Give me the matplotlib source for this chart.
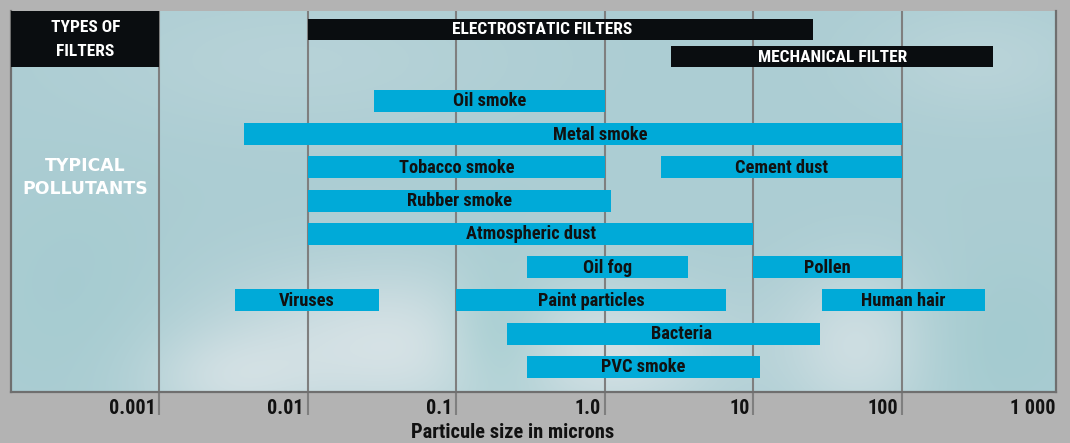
import numpy as np
import matplotlib
matplotlib.use("Agg")
import matplotlib.pyplot as plt
from matplotlib import transforms

# ---- data -----------------------------------------------------------------
filters = ["ELECTROSTATIC FILTERS", "MECHANICAL FILTER"]
filter_lo = [0.01, 2.8]
filter_hi = [25, 410]

pollutants = ["Oil smoke", "Metal smoke", "Tobacco smoke", "Cement dust",
              "Rubber smoke", "Atmospheric dust", "Oil fog", "Pollen",
              "Viruses", "Paint particles", "Human hair", "Bacteria",
              "PVC smoke"]
size_lo = [0.028, 0.0037, 0.01, 2.4, 0.01, 0.01, 0.3, 10,
           0.0032, 0.1, 29, 0.22, 0.3]
size_hi = [1.0, 100, 1.0, 100, 1.1, 10, 3.6, 100,
           0.03, 6.5, 360, 28, 11]
lane = [0, 1, 2, 2, 3, 4, 5, 5, 6, 6, 6, 7, 8]

tick_values = [0.001, 0.01, 0.1, 1.0, 10, 100, 1000]
tick_labels = ["0.001", "0.01", "0.1", "1.0", "10", "100", "1 000"]

# ---- style ----------------------------------------------------------------
W, H = 1070, 443
FIG_BG = "#b3b3b3"
BAR_BLUE = "#00aad8"
BLACK = "#0a0d10"
GRID = "#7f7f7f"
NARROW = ["Roboto Condensed", "Archivo Narrow", "PT Sans Narrow",
          "IBM Plex Sans Condensed", "DejaVu Sans"]
# labels not centred on their bar (x in microns)
label_x = {"ELECTROSTATIC FILTERS": 0.376, "Metal smoke": 0.93,
           "Bacteria": 3.3}

fig = plt.figure(figsize=(W / 100, H / 100), dpi=100, facecolor=FIG_BG)

# plot rectangle in pixels
x0, x1, y0, y1 = 11, 1056, 11, 392
rect = [x0 / W, 1 - y1 / H, (x1 - x0) / W, (y1 - y0) / H]

# soft cloudy backdrop
bg = fig.add_axes(rect, zorder=0)
gx, gy = np.meshgrid(np.arange(x0, x1), np.arange(y0, y1))
base = np.array([172, 205, 211]) / 255.0
light = np.array([224, 231, 234]) / 255.0
teal = np.array([152, 200, 203]) / 255.0
w_light = np.zeros_like(gx, dtype=float)
for cx, cy, sx, sy, a in [(400, 345, 130, 55, 0.8), (630, 355, 70, 45, 0.55),
                          (860, 345, 55, 55, 0.65), (300, 60, 150, 50, 0.2),
                          (980, 60, 80, 40, 0.25), (220, 380, 60, 35, 0.45)]:
    w_light += a * np.exp(-((gx - cx) ** 2 / (2 * sx ** 2) + (gy - cy) ** 2 / (2 * sy ** 2)))
w_light = np.clip(w_light, 0, 1)
w_teal = np.zeros_like(gx, dtype=float)
for cx, cy, sx, sy, a in [(500, 330, 40, 60, 0.6), (1000, 340, 60, 60, 0.4),
                          (80, 300, 70, 80, 0.3)]:
    w_teal += a * np.exp(-((gx - cx) ** 2 / (2 * sx ** 2) + (gy - cy) ** 2 / (2 * sy ** 2)))
w_teal = np.clip(w_teal, 0, 1)
img = base * (1 - w_light[..., None]) + light * w_light[..., None]
img = img * (1 - w_teal[..., None]) + teal * w_teal[..., None]
bg.imshow(img, aspect="auto", interpolation="bilinear")
bg.axis("off")

ax = fig.add_axes(rect, zorder=1)
ax.patch.set_alpha(0)
ax.set_xscale("log")
ax.set_xlim(1e-4, 1090)
ax.set_ylim(y1, y0)  # vertical axis in figure pixel rows

for s in ["left", "right", "bottom"]:
    ax.spines[s].set_color("#6f6f6f")
    ax.spines[s].set_linewidth(1.6)
ax.spines["top"].set_visible(False)
ax.set_xticks([])
ax.set_yticks([])
ax.minorticks_off()
ax.tick_params(which="both", length=0, labelbottom=False, labelleft=False)

# decade grid lines, extended below the frame as tick marks
for v in tick_values[:-1]:
    ax.plot([v, v], [y0, 415], color=GRID, lw=1.5, zorder=1, clip_on=False,
            solid_capstyle="butt")

# header block of the left column
ax.barh((y0 + 67) / 2, 1e-3 - 1e-4, left=1e-4, height=67 - y0,
        color=BLACK, zorder=3)
ax.text(10 ** -3.5, 28, "TYPES OF", color="white", ha="center", va="center",
        fontsize=12.5, fontweight="bold", family=NARROW, zorder=4)
ax.text(10 ** -3.5, 51.5, "FILTERS", color="white", ha="center", va="center",
        fontsize=12.5, fontweight="bold", family=NARROW, zorder=4)
ax.text(10 ** -3.5, 166, "TYPICAL", color="white", ha="center", va="center",
        fontsize=12.4, fontweight="bold", family="DejaVu Sans", zorder=4)
ax.text(10 ** -3.5, 189, "POLLUTANTS", color="white", ha="center", va="center",
        fontsize=12.4, fontweight="bold", family="DejaVu Sans", zorder=4)

# filter ranges
filter_y = [29.5, 56.5]
for name, lo, hi, yc in zip(filters, filter_lo, filter_hi, filter_y):
    ax.barh(yc, hi - lo, left=lo, height=21, color=BLACK, zorder=3)
    ax.text(label_x.get(name, np.sqrt(lo * hi)), yc + 0.5, name, color="white",
            ha="center", va="center", fontsize=12.5, fontweight="bold",
            family=NARROW, zorder=4)

# pollutant size ranges
for name, lo, hi, ln in zip(pollutants, size_lo, size_hi, lane):
    yc = 101 + 33.25 * ln
    ax.barh(yc, hi - lo, left=lo, height=22, color=BAR_BLUE, zorder=3)
    ax.text(label_x.get(name, np.sqrt(lo * hi)), yc + 0.5, name,
            color="#111111", ha="center", va="center", fontsize=13.2,
            fontweight="bold", family=NARROW, zorder=4)

# tick labels sit to the left of their grid line
shift = transforms.ScaledTranslation(-4 / 100, 0, fig.dpi_scale_trans)
edge = transforms.ScaledTranslation(-1 / 100, 0, fig.dpi_scale_trans)
for v, lab in zip(tick_values, tick_labels):
    xv = v if v < 1000 else 1090
    off = shift if v < 1000 else edge
    ax.text(xv, 409, lab, ha="right", va="center", fontsize=14.5,
            fontweight="bold", family=NARROW, color="#111111",
            transform=ax.transData + off, clip_on=False)

fig.text(513 / W, 1 - 433 / H, "Particule size in microns", ha="center",
         va="center", fontsize=14.8, fontweight="bold", family=NARROW,
         color="#111111")

fig.savefig("out.png", dpi=100, facecolor=FIG_BG)
